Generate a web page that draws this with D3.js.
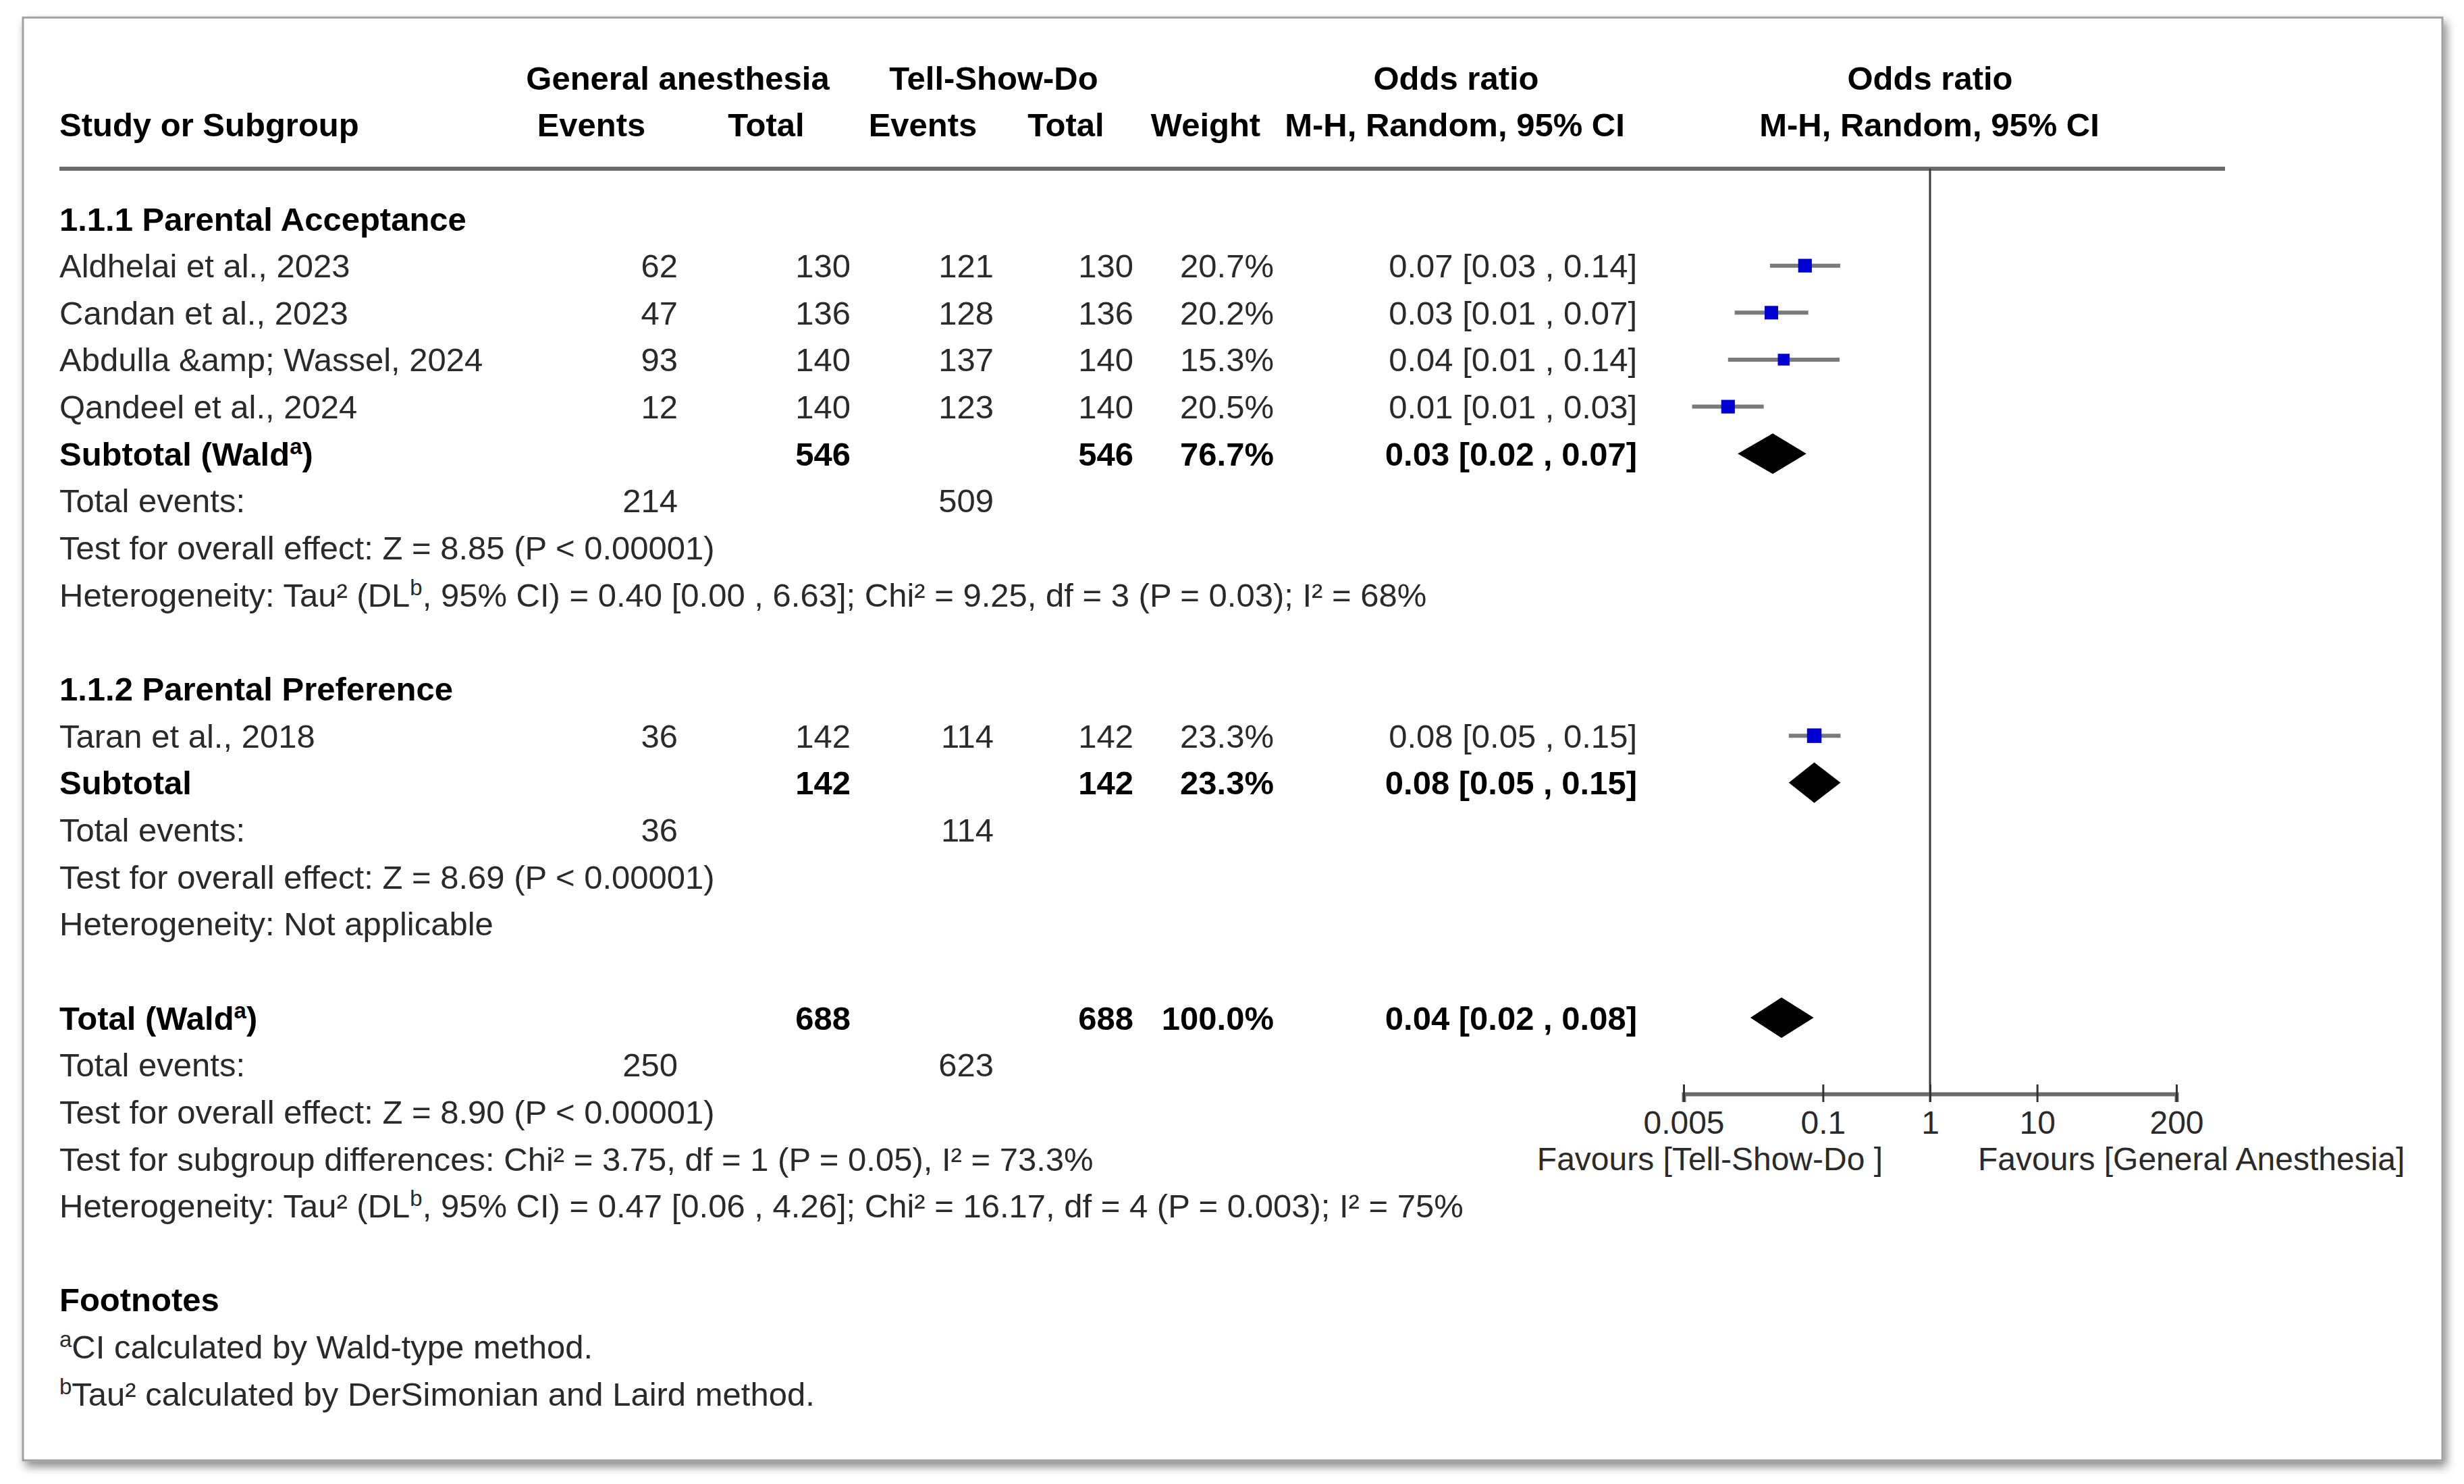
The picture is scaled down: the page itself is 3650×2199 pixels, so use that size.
<!DOCTYPE html>
<html>
<head>
<meta charset="utf-8">
<script src="https://cdn.jsdelivr.net/npm/d3@7"></script>
<style>
  html, body { margin: 0; padding: 0; background: #ffffff; }
  svg { display: block; }
</style>
</head>
<body>
<script>
// ---------------- DATA ----------------
const studyNames = ["Aldhelai et al., 2023", "Candan et al., 2023", "Abdulla &amp; Wassel, 2024", "Qandeel et al., 2024", "Taran et al., 2018"];
const gaEvents   = [62, 47, 93, 12, 36];
const gaTotal    = [130, 136, 140, 140, 142];
const tsdEvents  = [121, 128, 137, 123, 114];
const tsdTotal   = [130, 136, 140, 140, 142];
const weights    = [20.7, 20.2, 15.3, 20.5, 23.3];
const orLabels   = ["0.07 [0.03 , 0.14]", "0.03 [0.01 , 0.07]", "0.04 [0.01 , 0.14]", "0.01 [0.01 , 0.03]", "0.08 [0.05 , 0.15]"];
const orEst      = [0.068, 0.033, 0.043, 0.013, 0.083];
const orLow      = [0.032, 0.015, 0.013, 0.006, 0.048];
const orHigh     = [0.145, 0.073, 0.143, 0.028, 0.146];
const studyRows  = [1, 2, 3, 4, 11];

const groupLabels = ["1.1.1 Parental Acceptance", "1.1.2 Parental Preference"];
const groupRows   = [0, 10];

const sumLabels    = ["Subtotal (Wald^a)", "Subtotal", "Total (Wald^a)"];
const sumRows      = [5, 12, 17];
const sumGaTotal   = [546, 142, 688];
const sumTsdTotal  = [546, 142, 688];
const sumWeights   = ["76.7%", "23.3%", "100.0%"];
const sumOrLabels  = ["0.03 [0.02 , 0.07]", "0.08 [0.05 , 0.15]", "0.04 [0.02 , 0.08]"];
const sumEst       = [0.034, 0.083, 0.041];
const sumLow       = [0.016, 0.048, 0.021];
const sumHigh      = [0.070, 0.146, 0.082];

const totEvRows = [6, 13, 18];
const totEvGa   = [214, 36, 250];
const totEvTsd  = [509, 114, 623];

const statRows = [7, 8, 14, 15, 19, 20, 21];
const statLines = [
  "Test for overall effect: Z = 8.85 (P < 0.00001)",
  "Heterogeneity: Tau² (DL^b, 95% CI) = 0.40 [0.00 , 6.63]; Chi² = 9.25, df = 3 (P = 0.03); I² = 68%",
  "Test for overall effect: Z = 8.69 (P < 0.00001)",
  "Heterogeneity: Not applicable",
  "Test for overall effect: Z = 8.90 (P < 0.00001)",
  "Test for subgroup differences: Chi² = 3.75, df = 1 (P = 0.05), I² = 73.3%",
  "Heterogeneity: Tau² (DL^b, 95% CI) = 0.47 [0.06 , 4.26]; Chi² = 16.17, df = 4 (P = 0.003); I² = 75%"
];
const footnoteTitle = "Footnotes";
const footnotes = ["^aCI calculated by Wald-type method.", "^bTau² calculated by DerSimonian and Laird method."];

const tickValues = [0.005, 0.1, 1, 10, 200];
const favoursLeft = "Favours [Tell-Show-Do ]";
const favoursRight = "Favours [General Anesthesia]";

// ---------------- LAYOUT ----------------
const W = 3650, H = 2199;
const FONT = "'Liberation Sans', Arial, Helvetica, sans-serif";
const FS = 49;
const TXT = "#2a2a2a";
const rowY = i => 324 + i * 69.65;
const BASE = 17.5;
const col = { study: 88, gaEv: 1004, gaTot: 1260, tsdEv: 1472, tsdTot: 1679, weight: 1887, orTxt: 2425 };

const svg = d3.select("body").append("svg")
  .attr("width", W).attr("height", H)
  .attr("font-family", FONT).attr("font-size", FS);

const defs = svg.append("defs");
const flt = defs.append("filter").attr("id", "shadow")
  .attr("x", "-5%").attr("y", "-5%").attr("width", "110%").attr("height", "110%");
flt.append("feDropShadow").attr("dx", 5).attr("dy", 8).attr("stdDeviation", 7)
  .attr("flood-color", "#000").attr("flood-opacity", 0.45);

svg.append("rect").attr("x", 34).attr("y", 26).attr("width", 3584).attr("height", 2138)
  .attr("fill", "#fff").attr("stroke", "#a0a0a0").attr("stroke-width", 3)
  .attr("filter", "url(#shadow)");

function addText(x, y, str, opt = {}) {
  const fs = opt.size || FS;
  const t = svg.append("text").attr("x", x).attr("y", y)
    .attr("text-anchor", opt.anchor || "start")
    .attr("font-weight", opt.bold ? "bold" : "normal")
    .attr("fill", opt.bold ? "#000" : TXT);
  const parts = str.split(/\^(.)/);
  let raised = false;
  parts.forEach((p, k) => {
    if (p === "") return;
    const sup = k % 2 === 1;
    const ts = t.append("tspan").text(p);
    if (sup) {
      ts.attr("font-size", 33).attr("dy", -17);
      raised = true;
    } else {
      ts.attr("font-size", fs);
      if (raised) { ts.attr("dy", 17); raised = false; }
    }
  });
  return t;
}

// Headers
addText(1004, rowY(-3) + BASE, "General anesthesia", { bold: true, anchor: "middle" });
addText(1472, rowY(-3) + BASE, "Tell-Show-Do", { bold: true, anchor: "middle" });
addText(2157, rowY(-3) + BASE, "Odds ratio", { bold: true, anchor: "middle" });
addText(2859, rowY(-3) + BASE, "Odds ratio", { bold: true, anchor: "middle" });
addText(88, rowY(-2) + BASE, "Study or Subgroup", { bold: true });
addText(876, rowY(-2) + BASE, "Events", { bold: true, anchor: "middle" });
addText(1135, rowY(-2) + BASE, "Total", { bold: true, anchor: "middle" });
addText(1367, rowY(-2) + BASE, "Events", { bold: true, anchor: "middle" });
addText(1579, rowY(-2) + BASE, "Total", { bold: true, anchor: "middle" });
addText(1786, rowY(-2) + BASE, "Weight", { bold: true, anchor: "middle" });
addText(2155, rowY(-2) + BASE, "M-H, Random, 95% CI", { bold: true, anchor: "middle" });
addText(2858, rowY(-2) + BASE, "M-H, Random, 95% CI", { bold: true, anchor: "middle" });

// header rule
svg.append("line").attr("x1", 88).attr("x2", 3296).attr("y1", 250).attr("y2", 250)
  .attr("stroke", "#6c6c6c").attr("stroke-width", 6);

// Group labels
groupLabels.forEach((g, i) => addText(col.study, rowY(groupRows[i]) + BASE, g, { bold: true }));

// Study rows
studyNames.forEach((s, i) => {
  const y = rowY(studyRows[i]) + BASE;
  addText(col.study, y, s);
  addText(col.gaEv, y, String(gaEvents[i]), { anchor: "end" });
  addText(col.gaTot, y, String(gaTotal[i]), { anchor: "end" });
  addText(col.tsdEv, y, String(tsdEvents[i]), { anchor: "end" });
  addText(col.tsdTot, y, String(tsdTotal[i]), { anchor: "end" });
  addText(col.weight, y, weights[i].toFixed(1) + "%", { anchor: "end" });
  addText(col.orTxt, y, orLabels[i], { anchor: "end" });
});

// Summary rows
sumLabels.forEach((s, i) => {
  const y = rowY(sumRows[i]) + BASE;
  addText(col.study, y, s, { bold: true });
  addText(col.gaTot, y, String(sumGaTotal[i]), { bold: true, anchor: "end" });
  addText(col.tsdTot, y, String(sumTsdTotal[i]), { bold: true, anchor: "end" });
  addText(col.weight, y, sumWeights[i], { bold: true, anchor: "end" });
  addText(col.orTxt, y, sumOrLabels[i], { bold: true, anchor: "end" });
});

// Total events rows
totEvRows.forEach((r, i) => {
  const y = rowY(r) + BASE;
  addText(col.study, y, "Total events:");
  addText(col.gaEv, y, String(totEvGa[i]), { anchor: "end" });
  addText(col.tsdEv, y, String(totEvTsd[i]), { anchor: "end" });
});

// Stats lines
statLines.forEach((s, i) => addText(col.study, rowY(statRows[i]) + BASE, s));

// Footnotes
addText(col.study, rowY(23) + BASE, footnoteTitle, { bold: true });
footnotes.forEach((f, i) => addText(col.study, rowY(24 + i) + BASE, f));

// ---------------- FOREST PLOT ----------------
const x = d3.scaleLog().domain([0.005, 200]).range([2494, 3224]);
const axisY = 1621;

// null line
svg.append("line").attr("x1", x(1)).attr("x2", x(1)).attr("y1", 250).attr("y2", axisY + 12)
  .attr("stroke", "#3a3a3a").attr("stroke-width", 3);

// CI lines
const plotG = svg.append("g");
plotG.selectAll("line.ci").data(studyNames).join("line").attr("class", "ci")
  .attr("x1", (d, i) => x(orLow[i])).attr("x2", (d, i) => x(orHigh[i]))
  .attr("y1", (d, i) => rowY(studyRows[i])).attr("y2", (d, i) => rowY(studyRows[i]))
  .attr("stroke", "#7a7a7a").attr("stroke-width", 6);

const sz = d3.scaleSqrt().domain([0, 23.3]).range([0, 21.5]);
plotG.selectAll("rect.pt").data(studyNames).join("rect").attr("class", "pt")
  .attr("x", (d, i) => x(orEst[i]) - sz(weights[i]) / 2)
  .attr("y", (d, i) => rowY(studyRows[i]) - sz(weights[i]) / 2)
  .attr("width", (d, i) => sz(weights[i])).attr("height", (d, i) => sz(weights[i]))
  .attr("fill", "#0000d2");

// diamonds
const dh = 30;
plotG.selectAll("path.dm").data(sumLabels).join("path").attr("class", "dm")
  .attr("d", (d, i) => {
    const y = rowY(sumRows[i]);
    return `M${x(sumLow[i])},${y}L${x(sumEst[i])},${y - dh}L${x(sumHigh[i])},${y}L${x(sumEst[i])},${y + dh}Z`;
  })
  .attr("fill", "#000");

// axis
const axis = d3.axisBottom(x).tickValues(tickValues).tickFormat(d => String(d)).tickSizeOuter(0).tickSize(12);
const ag = svg.append("g").attr("transform", `translate(0,${axisY})`).call(axis)
  .attr("font-family", FONT).attr("font-size", 48);
ag.select(".domain").attr("stroke", "#6a6a6a").attr("stroke-width", 6);
ag.selectAll(".tick line").attr("y1", -14).attr("y2", 12).attr("stroke", "#333").attr("stroke-width", 3);
ag.selectAll(".tick text").attr("y", 59).attr("dy", null).attr("fill", TXT);

addText(x(1) - 70, 1734, favoursLeft, { anchor: "end", size: 48 });
addText(x(1) + 71, 1734, favoursRight, { anchor: "start", size: 48 });
</script>
</body>
</html>
